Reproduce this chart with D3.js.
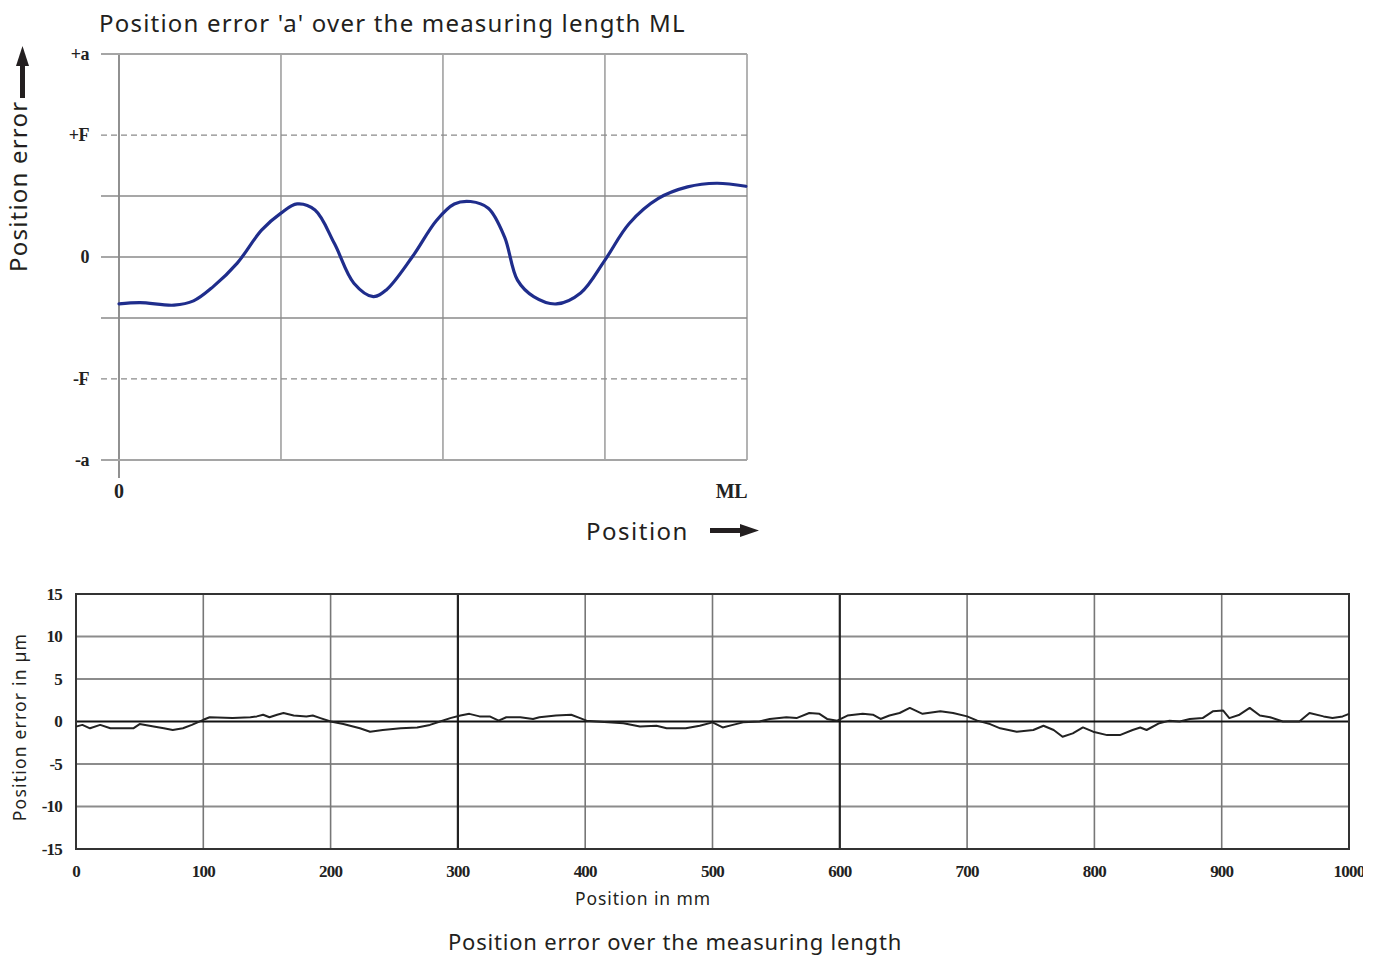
<!DOCTYPE html>
<html><head><meta charset="utf-8">
<script src="https://cdn.jsdelivr.net/npm/d3@7"></script>
<style>
html,body{margin:0;padding:0;background:#fff;}
svg{display:block;}
</style></head>
<body>
<svg id="chart" width="1380" height="956"></svg>
<script>
// ---------- Top (schematic) chart data ----------
const topPos = [0,0.13,0.34,0.46,0.58,0.73,0.88,1.0,1.10,1.21,1.33,1.45,1.57,1.65,1.81,1.96,2.07,2.17,2.28,2.38,2.46,2.56,2.70,2.85,3.0,3.15,3.33,3.51,3.69,3.87];
const topErr = [-0.77,-0.75,-0.79,-0.72,-0.49,-0.1,0.44,0.72,0.87,0.77,0.22,-0.43,-0.65,-0.54,0.0,0.6,0.87,0.91,0.8,0.33,-0.38,-0.65,-0.77,-0.59,-0.05,0.55,0.96,1.15,1.21,1.16];
const topTickVals = [3.33, 2, 0, -2, -3.33];
const topTickLabels = ["+a", "+F", "0", "-F", "-a"];
const topSolidGrid = [3.33, 1, 0, -1, -3.33];
const topDashedGrid = [2, -2];
const topVGrid = [0, 1, 2, 3, 3.877];
const topXLabels = ["0", "ML"];

// ---------- Bottom (measured) chart data ----------
const posMm = [0,5,11,19,27,45,50,61,69,76,84,91,100,105,123,137,142,147,152,158,163,171,181,186,192,200,210,223,231,241,255,268,278,286,294,302,309,317,325,332,338,349,359,364,377,389,396,401,409,430,443,456,464,479,490,500,508,516,524,537,545,558,566,576,584,590,598,606,618,626,632,639,647,655,665,679,689,700,708,718,726,739,752,760,768,775,783,791,799,810,820,830,836,841,851,859,867,875,885,893,901,906,914,922,930,938,948,961,969,980,987,995,1000];
const errUm = [-0.6,-0.4,-0.8,-0.4,-0.8,-0.8,-0.3,-0.6,-0.8,-1.0,-0.8,-0.4,0.2,0.5,0.4,0.5,0.6,0.8,0.5,0.8,1.0,0.7,0.6,0.7,0.4,0.0,-0.3,-0.8,-1.2,-1.0,-0.8,-0.7,-0.4,0.0,0.4,0.7,0.9,0.6,0.6,0.1,0.5,0.5,0.3,0.5,0.7,0.8,0.4,0.1,0.0,-0.2,-0.6,-0.5,-0.8,-0.8,-0.5,-0.1,-0.7,-0.4,-0.1,0.0,0.3,0.5,0.4,1.0,0.9,0.3,0.1,0.7,0.9,0.8,0.3,0.7,1.0,1.6,0.9,1.2,1.0,0.6,0.1,-0.3,-0.8,-1.2,-1.0,-0.5,-1.0,-1.8,-1.4,-0.7,-1.2,-1.6,-1.6,-1.0,-0.7,-1.0,-0.2,0.1,0.0,0.3,0.4,1.2,1.3,0.4,0.8,1.6,0.7,0.5,0.0,0.0,1.0,0.6,0.4,0.6,0.9];
const xTicksMm = [0,100,200,300,400,500,600,700,800,900,1000];
const yTicksUm = [15,10,5,0,-5,-10,-15];
const strongX = [300, 600];

const svg = d3.select("#chart");
const serif = "'Liberation Serif','Times New Roman',serif";
const sans = "'Noto Sans','Open Sans',sans-serif";

// ================= TOP CHART =================
const tx = d3.scaleLinear().domain([0, 3.877]).range([119, 747]);
const ty = d3.scaleLinear().domain([-3.33, 3.33]).range([460, 54]);
const gt = svg.append("g");

gt.selectAll(".tvg").data(topVGrid).join("line")
  .attr("x1", d => tx(d)).attr("x2", d => tx(d))
  .attr("y1", ty(3.33)).attr("y2", (d, i) => i === 0 ? 478 : ty(-3.33))
  .attr("stroke", (d,i)=> i===0 ? "#555" : "#8a8a8a").attr("stroke-width", 1.3);

gt.selectAll(".thg").data(topSolidGrid).join("line")
  .attr("x1", 101).attr("x2", tx(3.877))
  .attr("y1", d => ty(d)).attr("y2", d => ty(d))
  .attr("stroke", d => Math.abs(d) > 3 ? "#a5a5a5" : "#8a8a8a")
  .attr("stroke-width", d => Math.abs(d) > 3 ? 2.2 : 1.5);

gt.selectAll(".tdg").data(topDashedGrid).join("line")
  .attr("x1", 101).attr("x2", tx(3.877))
  .attr("y1", d => ty(d)).attr("y2", d => ty(d))
  .attr("stroke", "#8a8a8a").attr("stroke-width", 1.4).attr("stroke-dasharray", "6,4");

gt.selectAll(".tyl").data(topTickVals).join("text")
  .attr("x", 89).attr("y", d => ty(d)).attr("dy", "0.35em")
  .attr("text-anchor", "end").attr("font-family", serif).attr("font-weight", "bold")
  .attr("font-size", 18).attr("fill", "#222").attr("letter-spacing", -0.5)
  .text((d, i) => topTickLabels[i]);

gt.append("text").attr("x", tx(0)).attr("y", 498).attr("text-anchor", "middle")
  .attr("font-family", serif).attr("font-weight", "bold").attr("font-size", 20).attr("fill", "#222").text(topXLabels[0]);
gt.append("text").attr("x", tx(3.877)).attr("y", 498).attr("text-anchor", "end")
  .attr("font-family", serif).attr("font-weight", "bold").attr("font-size", 20).attr("fill", "#222")
  .attr("letter-spacing", -0.5).text(topXLabels[1]);

const topLine = d3.line().x((d, i) => tx(topPos[i])).y(d => ty(d)).curve(d3.curveCatmullRom.alpha(0.5));
gt.append("path").datum(topErr).attr("d", topLine)
  .attr("fill", "none").attr("stroke", "#1f2d8c").attr("stroke-width", 3.2)
  .attr("stroke-linejoin", "round").attr("stroke-linecap", "round");

// title
svg.append("text").attr("x", 99).attr("y", 32).attr("font-family", sans).attr("font-size", 24)
  .attr("letter-spacing", 1.2).attr("fill", "#231f20").text("Position error 'a' over the measuring length ML");

// vertical label + up arrow
svg.append("text").attr("transform", "translate(27,272) rotate(-90)")
  .attr("font-family", sans).attr("font-size", 24).attr("letter-spacing", 1.2)
  .attr("fill", "#231f20").text("Position error");
svg.append("rect").attr("x", 20).attr("y", 64).attr("width", 5).attr("height", 34).attr("fill", "#231f20");
svg.append("path").attr("d", "M22.5,46 L29,66 L16,66 Z").attr("fill", "#231f20");

// Position label + right arrow
svg.append("text").attr("x", 586).attr("y", 540).attr("font-family", sans).attr("font-size", 24)
  .attr("letter-spacing", 1.5).attr("fill", "#231f20").text("Position");
svg.append("rect").attr("x", 710).attr("y", 528).attr("width", 32).attr("height", 5).attr("fill", "#231f20");
svg.append("path").attr("d", "M759,530.5 L740,524 L740,537 Z").attr("fill", "#231f20");

// ================= BOTTOM CHART =================
const bx = d3.scaleLinear().domain([0, 1000]).range([76, 1349]);
const by = d3.scaleLinear().domain([-15, 15]).range([849, 594]);
const gb = svg.append("g");

gb.selectAll(".bhg").data(yTicksUm.filter(d => Math.abs(d) !== 15 && d !== 0)).join("line")
  .attr("x1", bx(0)).attr("x2", bx(1000)).attr("y1", d => by(d)).attr("y2", d => by(d))
  .attr("stroke", "#8c8c8c").attr("stroke-width", 2);

gb.selectAll(".bvg").data(xTicksMm.filter(d => d !== 0 && d !== 1000)).join("line")
  .attr("x1", d => bx(d)).attr("x2", d => bx(d)).attr("y1", by(15)).attr("y2", by(-15))
  .attr("stroke", d => strongX.includes(d) ? "#222" : "#777")
  .attr("stroke-width", d => strongX.includes(d) ? 2.2 : 1.6);

gb.append("line").attr("x1", bx(0)).attr("x2", bx(1000)).attr("y1", by(0)).attr("y2", by(0))
  .attr("stroke", "#111").attr("stroke-width", 1.8);

gb.append("rect").attr("x", bx(0)).attr("y", by(15)).attr("width", bx(1000) - bx(0)).attr("height", by(-15) - by(15))
  .attr("fill", "none").attr("stroke", "#333").attr("stroke-width", 2);

const botLine = d3.line().x((d, i) => bx(posMm[i])).y(d => by(d)).curve(d3.curveLinear);
gb.append("path").datum(errUm).attr("d", botLine)
  .attr("fill", "none").attr("stroke", "#222").attr("stroke-width", 2).attr("stroke-linejoin", "round");

gb.selectAll(".byl").data(yTicksUm).join("text")
  .attr("x", 62).attr("y", d => by(d)).attr("dy", "0.35em").attr("text-anchor", "end")
  .attr("font-family", serif).attr("font-weight", "bold").attr("font-size", 17).attr("fill", "#222")
  .attr("letter-spacing", -0.8).text(d => d);

svg.append("clipPath").attr("id", "xlclip").append("rect").attr("x", 0).attr("y", 850).attr("width", 1363).attr("height", 40);
gb.append("g").attr("clip-path", "url(#xlclip)").selectAll("text").data(xTicksMm).join("text")
  .attr("x", d => bx(d)).attr("y", 877).attr("text-anchor", "middle")
  .attr("font-family", serif).attr("font-weight", "bold").attr("font-size", 17).attr("fill", "#222")
  .attr("letter-spacing", -0.8).text(d => d);

svg.append("text").attr("transform", "translate(26,727) rotate(-90)").attr("text-anchor", "middle")
  .attr("font-family", sans).attr("font-size", 17.5).attr("letter-spacing", 1.2)
  .attr("fill", "#231f20").text("Position error in µm");
svg.append("text").attr("x", 643).attr("y", 905).attr("text-anchor", "middle")
  .attr("font-family", sans).attr("font-size", 17.5).attr("letter-spacing", 0.9)
  .attr("fill", "#231f20").text("Position in mm");
svg.append("text").attr("x", 675).attr("y", 950).attr("text-anchor", "middle")
  .attr("font-family", sans).attr("font-size", 22).attr("letter-spacing", 0.8)
  .attr("fill", "#231f20").text("Position error over the measuring length");
</script>
</body></html>
